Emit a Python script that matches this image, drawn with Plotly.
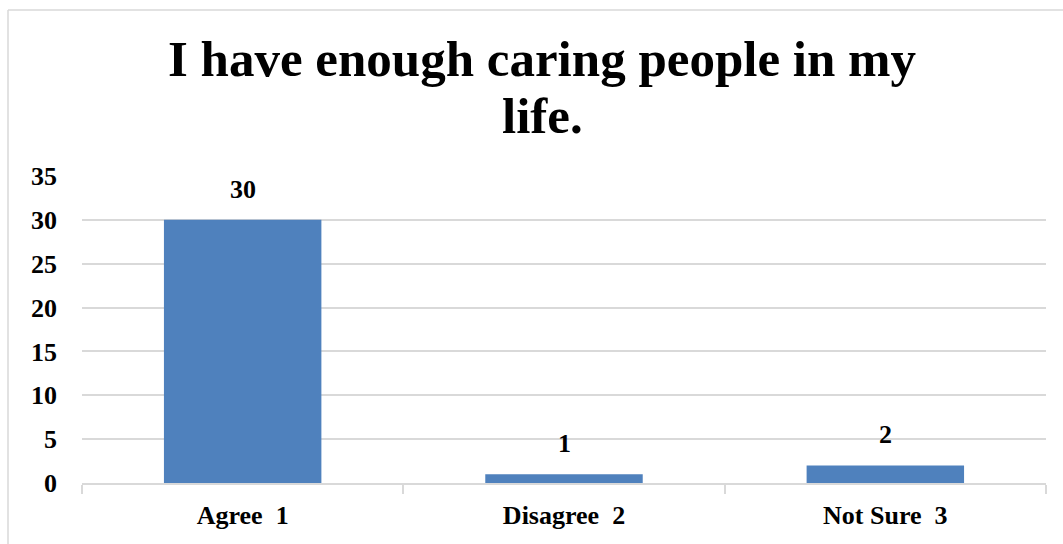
import plotly.graph_objects as go

# Survey responses
categories = ["Agree  1", "Disagree  2", "Not Sure  3"]
counts = [30, 1, 2]
y_ticks = [0, 5, 10, 15, 20, 25, 30, 35]
title_lines = ["I have enough caring people in my", "life."]

W, H = 1063, 544
L, R, T, B = 82, 17, 176, 61
plot_w = W - L - R
plot_h = H - T - B

FONT = "Liberation Serif"
GRID = "#d9d9d9"


def px_x(px):
    return (px - L) / plot_w


def px_y(py):
    return (H - B - py) / plot_h


fig = go.Figure()
fig.add_trace(go.Bar(
    x=categories,
    y=counts,
    marker=dict(color="#4F81BD", line=dict(width=0)),
    width=0.49,
    hoverinfo="x+y",
))

# value labels above each bar
for c, v in zip(categories, counts):
    fig.add_annotation(
        x=c, y=v, text=f"<b>{v}</b>", showarrow=False,
        yanchor="bottom", yshift=14,
        font=dict(family=FONT, size=26, color="black"),
    )

# two-line chart title
for line, cy in zip(title_lines, [59, 116]):
    fig.add_annotation(
        xref="paper", yref="paper", x=px_x(542), y=px_y(cy),
        xanchor="center", yanchor="middle",
        text=f"<b>{line}</b>", showarrow=False,
        font=dict(family=FONT, size=51, color="black"),
    )

# chart frame (left and top edges visible)
fig.add_shape(type="line", xref="paper", yref="paper",
              x0=px_x(8), x1=px_x(W + 5), y0=px_y(10), y1=px_y(10),
              line=dict(color=GRID, width=1.5))
fig.add_shape(type="line", xref="paper", yref="paper",
              x0=px_x(8), x1=px_x(8), y0=px_y(10), y1=px_y(H + 5),
              line=dict(color=GRID, width=1.5))

fig.update_layout(
    width=W, height=H,
    margin=dict(l=L, r=R, t=T, b=B, autoexpand=False),
    paper_bgcolor="white", plot_bgcolor="white",
    showlegend=False,
    bargap=0.51,
    xaxis=dict(
        type="category",
        showgrid=False,
        showline=True, linecolor=GRID, linewidth=1.5,
        ticks="outside", ticklen=9, tickcolor=GRID, tickwidth=1.5,
        tickson="boundaries",
        ticklabelstandoff=8,
        tickfont=dict(family=FONT, size=26, color="black"),
        tickprefix="<b>", ticksuffix="</b>",
    ),
    yaxis=dict(
        range=[0, 35],
        tickvals=y_ticks,
        ticktext=[f"<b>{t}</b>" for t in y_ticks],
        showgrid=True, gridcolor=GRID, gridwidth=1.5,
        zeroline=False,
        showline=False,
        ticks="",
        ticklabelstandoff=24,
        tickfont=dict(family=FONT, size=26, color="black"),
    ),
)

fig.write_html("out.html")
